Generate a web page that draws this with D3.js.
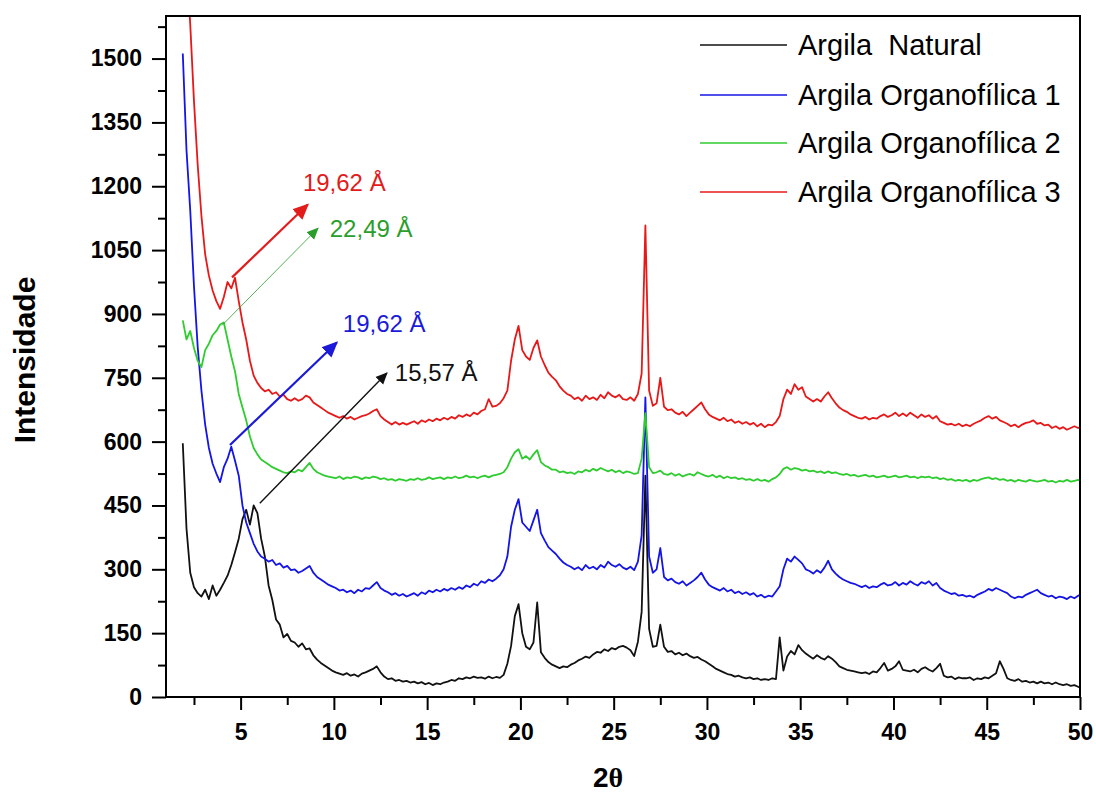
<!DOCTYPE html>
<html>
<head>
<meta charset="utf-8">
<script src="https://cdn.jsdelivr.net/npm/d3@7"></script>
<style>
  body { margin: 0; background: #fff; }
  svg { display: block; font-family: "Liberation Sans", Arial, sans-serif; }
</style>
</head>
<body>
<div id="chart"></div>
<script>
// scan: 2theta from 1.9 to 50.1 deg, step 0.2
const scanStart = 1.9, scanStep = 0.2;

const natural = [
  596, 395, 292, 258, 244, 236, 252, 230, 262, 238,
  252, 268, 285, 310, 340, 372, 418, 440, 405, 450,
  432, 372, 330, 262, 228, 182, 170, 140, 148, 132,
  128, 118, 126, 112, 114, 98, 88, 80, 74, 68,
  62, 58, 55, 52, 56, 50, 53, 48, 55, 58,
  62, 66, 72, 58, 48, 42, 44, 38, 40, 36,
  38, 34, 36, 32, 35, 30, 33, 28, 32, 30,
  34, 36, 40, 38, 44, 42, 46, 44, 48, 45,
  46, 43, 48, 44, 47, 45, 52, 78, 120, 190,
  218, 150, 118, 112, 128, 222, 105, 92, 82, 76,
  72, 68, 72, 70, 76, 80, 86, 90, 95, 92,
  100, 106, 104, 112, 108, 115, 112, 118, 120, 116,
  110, 96, 130, 200, 520, 160, 118, 120, 170, 118,
  106, 108, 100, 104, 98, 102, 96, 92, 94, 88,
  84, 78, 72, 66, 62, 58, 54, 52, 48, 50,
  46, 44, 46, 42, 44, 40, 42, 40, 44, 42,
  140, 62, 95, 108, 100, 122, 110, 102, 96, 90,
  98, 92, 88, 96, 90, 82, 72, 68, 64, 62,
  60, 58, 56, 58, 54, 60, 58, 68, 80, 62,
  66, 72, 84, 64, 62, 60, 64, 58, 66, 70,
  64, 60, 68, 78, 50, 46, 48, 42, 46, 44,
  44, 46, 40, 44, 42, 46, 44, 50, 56, 84,
  66, 44, 40, 38, 42, 36, 38, 34, 36, 32,
  36, 32, 34, 30, 34, 30, 28, 30, 26, 28,
  24, 22
];

const organo1 = [
  1512, 1284, 1143, 965, 822, 720, 640, 585, 548, 525,
  505, 540, 560, 588, 555, 520, 450, 410, 385, 360,
  342, 330, 325, 318, 322, 310, 314, 304, 308, 298,
  300, 292, 296, 302, 308, 292, 282, 276, 270, 264,
  260, 256, 250, 252, 246, 250, 244, 252, 248, 256,
  254, 262, 270, 256, 250, 246, 240, 244, 238, 242,
  236, 240, 244, 238, 246, 242, 250, 246, 252, 248,
  254, 250, 256, 252, 258, 254, 262, 258, 266, 262,
  272, 268, 276, 272, 278, 286, 300, 330, 400, 440,
  465, 410, 400, 390, 415, 440, 385, 368, 352, 344,
  336, 325, 316, 310, 306, 300, 305, 298, 310, 302,
  306, 300, 310, 304, 318, 310, 306, 312, 304, 300,
  306, 298, 318, 380, 704, 330, 292, 300, 350, 282,
  274, 278, 270, 266, 272, 262, 268, 274, 282, 292,
  276, 264, 258, 254, 250, 256, 248, 252, 244, 248,
  242, 246, 240, 244, 236, 240, 234, 238, 236, 248,
  260, 300, 325, 318, 330, 322, 314, 300, 296, 290,
  298, 292, 304, 320, 300, 290, 282, 276, 272, 268,
  266, 262, 258, 262, 256, 260, 258, 264, 268, 262,
  264, 270, 262, 268, 264, 272, 266, 262, 270, 266,
  272, 262, 268, 256, 250, 246, 242, 244, 238, 240,
  236, 238, 234, 240, 244, 248, 254, 250, 256, 252,
  248, 244, 236, 232, 236, 234, 240, 244, 248, 252,
  244, 240, 236, 238, 232, 236, 234, 230, 236, 232,
  238, 240
];

const organo2 = [
  885, 840, 860, 820, 790, 775, 815, 830, 850, 860,
  875, 880, 840, 800, 765, 712, 680, 650, 612, 585,
  570, 558, 552, 546, 540, 536, 532, 528, 526, 530,
  528, 534, 530, 540, 550, 536, 528, 524, 520, 518,
  516, 514, 518, 512, 516, 514, 518, 516, 512, 516,
  514, 518, 516, 512, 514, 510, 512, 508, 512, 510,
  508, 512, 510, 514, 510, 512, 516, 512, 514, 516,
  512, 516, 514, 518, 514, 516, 520, 516, 518, 514,
  518, 520, 516, 520, 522, 524, 528, 540, 560, 575,
  582, 560, 566, 558, 570, 580, 552, 544, 540, 534,
  534, 528, 530, 526, 528, 524, 530, 528, 534, 530,
  536, 532, 538, 534, 530, 534, 528, 532, 526, 530,
  528, 524, 526, 560, 667, 540, 526, 528, 532, 524,
  522, 526, 520, 524, 518, 522, 524, 520, 528, 524,
  520, 518, 522, 516, 520, 514, 518, 514, 516, 512,
  514, 510, 512, 508, 512, 508, 510, 506, 512, 516,
  524, 536, 540, 534, 538, 536, 532, 534, 530, 532,
  528, 530, 526, 530, 526, 528, 524, 522, 524, 520,
  522, 518, 520, 522, 518, 520, 516, 518, 520, 516,
  518, 520, 516, 518, 520, 516, 518, 514, 518, 516,
  518, 514, 516, 512, 514, 510, 512, 508, 510, 508,
  510, 506, 510, 508, 512, 514, 516, 512, 514, 510,
  512, 508, 510, 506, 510, 508, 506, 510, 508, 506,
  508, 510, 506, 508, 504, 508, 506, 510, 506, 508,
  510, 508
];

const organo3 = [
  1900, 1720, 1580, 1400, 1250, 1130, 1040, 990, 955, 930,
  912, 940, 975, 960, 985, 930, 880, 840, 790, 755,
  738, 726, 718, 722, 712, 716, 706, 710, 700, 696,
  702, 696, 700, 708, 704, 692, 686, 680, 674, 668,
  664, 660, 656, 660, 654, 658, 652, 656, 660, 662,
  666, 672, 676, 660, 652, 646, 640, 646, 640, 644,
  640, 644, 648, 642, 650, 646, 652, 648, 654, 650,
  656, 652, 658, 654, 662, 658, 664, 660, 668, 664,
  672, 676, 700, 682, 684, 690, 702, 720, 790, 840,
  872, 815, 800, 792, 820, 838, 800, 780, 762, 752,
  744, 730, 720, 712, 708, 700, 704, 696, 708, 700,
  704, 698, 710, 702, 716, 708, 704, 710, 700, 698,
  704, 696, 712, 760, 1108, 720, 684, 690, 750, 682,
  674, 676, 668, 664, 670, 660, 668, 676, 684, 692,
  676, 664, 658, 654, 650, 656, 648, 652, 644, 648,
  642, 646, 640, 644, 636, 642, 634, 640, 638, 646,
  660, 700, 722, 712, 735, 722, 728, 706, 700, 694,
  700, 694, 706, 716, 702, 690, 680, 674, 670, 664,
  660, 656, 654, 658, 652, 656, 654, 660, 664, 658,
  662, 668, 660, 666, 660, 668, 662, 656, 664, 658,
  662, 654, 660, 648, 644, 640, 642, 638, 642, 636,
  640, 636, 642, 646, 650, 656, 660, 654, 658, 650,
  646, 642, 636, 640, 634, 640, 644, 646, 650, 642,
  644, 638, 640, 632, 636, 630, 634, 628, 632, 636,
  632, 636
];

const seriesNames = ["Argila  Natural", "Argila Organofílica 1", "Argila Organofílica 2", "Argila Organofílica 3"];
const seriesColors = ["#111111", "#1414e6", "#2ecc2e", "#e81818"];
const seriesValues = [natural, organo1, organo2, organo3];

const xMajor = [5, 10, 15, 20, 25, 30, 35, 40, 45, 50];
const xMinor = [2.5, 7.5, 12.5, 17.5, 22.5, 27.5, 32.5, 37.5, 42.5, 47.5];
const yMajor = [0, 150, 300, 450, 600, 750, 900, 1050, 1200, 1350, 1500];
const yMinor = [75, 225, 375, 525, 675, 825, 975, 1125, 1275, 1425, 1575];

// d-spacing callouts: arrow tail, arrow head, label anchor (data units)
const notes = [
  { text: "19,62 Å", color: "#e21b1b", width: 2.2, tail: [4.54, 986], head: [8.6, 1157], at: [8.34, 1209] },
  { text: "22,49 Å", color: "#2a9e2a", width: 0.8, tail: [4.0, 873], head: [9.14, 1101], at: [9.78, 1101] },
  { text: "19,62 Å", color: "#1a1ad8", width: 2.2, tail: [4.43, 592], head: [10.16, 833], at: [10.48, 878] },
  { text: "15,57 Å", color: "#111111", width: 1.4, tail: [6.03, 455], head: [12.84, 761], at: [13.27, 763] }
];

const W = 1096, H = 794;
const plotLeft = 166, plotRight = 1080, plotTop = 16, plotBottom = 697;

const svg = d3.select("#chart").append("svg").attr("width", W).attr("height", H);

const x = d3.scaleLinear().domain([1, 50]).range([plotLeft, plotRight]);
const y = d3.scaleLinear().domain([0, 1600]).range([plotBottom, plotTop]);

const defs = svg.append("defs");
defs.append("clipPath").attr("id", "plot")
  .append("rect").attr("x", plotLeft).attr("y", plotTop)
  .attr("width", plotRight - plotLeft).attr("height", plotBottom - plotTop);

// series
const line = d3.line()
  .defined(d => d[1] != null)
  .x(d => x(d[0]))
  .y(d => y(d[1]));

const lines = svg.append("g").attr("clip-path", "url(#plot)");
seriesValues.forEach((vals, k) => {
  const pts = vals.map((v, i) => [scanStart + scanStep * i, v]);
  lines.append("path")
    .datum(pts)
    .attr("fill", "none")
    .attr("stroke", seriesColors[k])
    .attr("stroke-width", 1.8)
    .attr("stroke-linejoin", "round")
    .attr("d", line);
});

// axes
const fmt = d3.format("d");
const styleAxis = g => {
  g.select(".domain").remove();
  g.selectAll(".tick line").attr("stroke", "#000").attr("stroke-width", 2);
  g.selectAll(".tick text").attr("fill", "#000")
    .style("font-family", "'Liberation Sans', Arial, sans-serif")
    .style("font-size", "23px").style("font-weight", "bold");
};

svg.append("g").attr("transform", `translate(0,${plotBottom})`)
  .call(d3.axisBottom(x).tickValues(xMajor).tickSize(13).tickPadding(14).tickFormat(fmt))
  .call(styleAxis);
svg.append("g").attr("transform", `translate(0,${plotBottom})`)
  .call(d3.axisBottom(x).tickValues(xMinor).tickSize(8).tickFormat(""))
  .call(styleAxis);
svg.append("g").attr("transform", `translate(${plotLeft},0)`)
  .call(d3.axisLeft(y).tickValues(yMajor).tickSize(14).tickPadding(10).tickFormat(fmt))
  .call(styleAxis);
svg.append("g").attr("transform", `translate(${plotLeft},0)`)
  .call(d3.axisLeft(y).tickValues(yMinor).tickSize(8).tickFormat(""))
  .call(styleAxis);

svg.append("rect")
  .attr("x", plotLeft).attr("y", plotTop)
  .attr("width", plotRight - plotLeft).attr("height", plotBottom - plotTop)
  .attr("fill", "none").attr("stroke", "#000").attr("stroke-width", 2);

// axis titles
svg.append("text")
  .attr("transform", "translate(35,360) rotate(-90)")
  .attr("text-anchor", "middle")
  .style("font-size", "30px").style("font-weight", "bold")
  .text("Intensidade");

const xt = svg.append("text")
  .attr("x", 608).attr("y", 787)
  .attr("text-anchor", "middle")
  .style("font-size", "28px").style("font-weight", "bold");
xt.append("tspan").text("2");
xt.append("tspan").style("font-family", "'Liberation Serif', 'Times New Roman', serif").text("θ");

// arrows and labels
notes.forEach((n, i) => {
  const size = n.width > 1.5 ? 16 : 12;
  defs.append("marker")
    .attr("id", "head" + i)
    .attr("markerUnits", "userSpaceOnUse")
    .attr("viewBox", "0 -5 10 10")
    .attr("refX", 9).attr("refY", 0)
    .attr("markerWidth", size).attr("markerHeight", size)
    .attr("orient", "auto")
    .append("path").attr("d", "M0,-4.5L10,0L0,4.5Z").attr("fill", n.color);

  svg.append("line")
    .attr("x1", x(n.tail[0])).attr("y1", y(n.tail[1]))
    .attr("x2", x(n.head[0])).attr("y2", y(n.head[1]))
    .attr("stroke", n.color).attr("stroke-width", n.width)
    .attr("marker-end", `url(#head${i})`);

  svg.append("text")
    .attr("x", x(n.at[0])).attr("y", y(n.at[1]))
    .attr("dy", "0.36em")
    .attr("fill", n.color)
    .style("font-size", "24px")
    .text(n.text);
});

// legend
const legendRows = [45, 95, 143, 192];
const legend = svg.append("g");
seriesNames.forEach((name, k) => {
  legend.append("line")
    .attr("x1", 700).attr("x2", 787)
    .attr("y1", legendRows[k]).attr("y2", legendRows[k])
    .attr("stroke", seriesColors[k]).attr("stroke-width", 1.3);
  legend.append("text")
    .attr("x", 798).attr("y", legendRows[k])
    .attr("dy", "0.36em")
    .style("font-size", "29px")
    .style("white-space", "pre")
    .text(name);
});
</script>
</body>
</html>
